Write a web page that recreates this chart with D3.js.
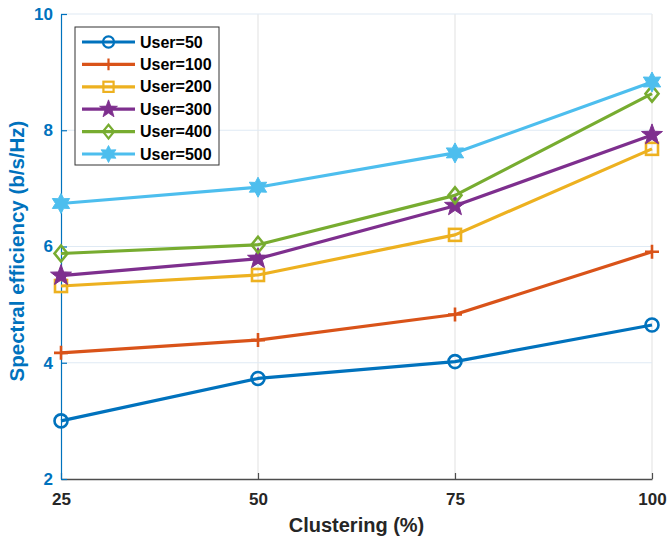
<!DOCTYPE html>
<html>
<head>
<meta charset="utf-8">
<script src="https://cdn.jsdelivr.net/npm/d3@7"></script>
<style>
  body { margin: 0; background: #fff; }
  svg { font-family: "Liberation Sans", Arial, sans-serif; }
</style>
</head>
<body>
<svg id="chart" width="667" height="540"></svg>
<script>
// data
const clustering = [25, 50, 75, 100];
const seriesNames = ['User=50', 'User=100', 'User=200', 'User=300', 'User=400', 'User=500'];
const user50 = [3.00, 3.73, 4.02, 4.65];
const user100 = [4.17, 4.39, 4.83, 5.91];
const user200 = [5.32, 5.51, 6.20, 7.68];
const user300 = [5.50, 5.79, 6.70, 7.92];
const user400 = [5.88, 6.03, 6.88, 8.63];
const user500 = [6.74, 7.02, 7.61, 8.83];
const yTicks = [2, 4, 6, 8, 10];

const colors = ['#0072BD', '#D95319', '#EDB120', '#7E2F8E', '#77AC30', '#4DBEEE'];
const markers = ['circle', 'plus', 'square', 'pentagram', 'diamond', 'hexagram'];
const allSeries = [user50, user100, user200, user300, user400, user500];

const svg = d3.select('#chart');
const margin = { top: 14, right: 15, bottom: 61, left: 61 };
const width = 667, height = 540;

const x = d3.scaleLinear().domain([25, 100]).range([margin.left, width - margin.right]);
const y = d3.scaleLinear().domain([2, 10]).range([height - margin.bottom, margin.top]);

// grid
svg.append('g')
  .selectAll('line')
  .data(clustering.slice(1))
  .join('line')
  .attr('x1', d => x(d)).attr('x2', d => x(d))
  .attr('y1', y(2)).attr('y2', y(10))
  .attr('stroke', '#e6e6e6').attr('stroke-width', 1.2);

svg.append('g')
  .selectAll('line')
  .data(yTicks.slice(1))
  .join('line')
  .attr('x1', x(25)).attr('x2', x(100))
  .attr('y1', d => y(d)).attr('y2', d => y(d))
  .attr('stroke', '#dfeaf4').attr('stroke-width', 1.2);

// axes
const xAxis = svg.append('g')
  .attr('transform', `translate(0,${y(2)})`)
  .call(d3.axisBottom(x).tickValues(clustering).tickSizeInner(-6).tickSizeOuter(0).tickPadding(14));
xAxis.select('.domain').attr('stroke', '#4d4d4d').attr('stroke-width', 1.5);
xAxis.selectAll('.tick line').attr('stroke', '#4d4d4d').attr('stroke-width', 1.2);
xAxis.selectAll('text')
  .attr('fill', '#262626').attr('font-size', 17).attr('font-weight', 'bold');

const yAxis = svg.append('g')
  .attr('transform', `translate(${x(25)},0)`)
  .call(d3.axisLeft(y).tickValues(yTicks).tickSizeInner(-6).tickSizeOuter(0).tickPadding(8));
yAxis.select('.domain').attr('stroke', '#0072BD').attr('stroke-width', 1.2);
yAxis.selectAll('.tick line').attr('stroke', '#0072BD').attr('stroke-width', 1.2);
yAxis.selectAll('text')
  .attr('fill', '#0072BD').attr('font-size', 17).attr('font-weight', 'bold');

// labels
svg.append('text')
  .attr('x', (x(25) + x(100)) / 2).attr('y', 532)
  .attr('text-anchor', 'middle')
  .attr('fill', '#262626').attr('font-size', 20).attr('font-weight', 'bold')
  .text('Clustering (%)');

svg.append('text')
  .attr('transform', `translate(24,251) rotate(-90)`)
  .attr('text-anchor', 'middle')
  .attr('fill', '#0072BD').attr('font-size', 20.5).attr('font-weight', 'bold')
  .text('Spectral efficiency (b/s/Hz)');

// marker paths
function starPath(points, outer, inner) {
  const p = d3.path();
  for (let i = 0; i < points * 2; i++) {
    const r = i % 2 === 0 ? outer : inner;
    const a = -Math.PI / 2 + i * Math.PI / points;
    const px = r * Math.cos(a), py = r * Math.sin(a);
    if (i === 0) p.moveTo(px, py); else p.lineTo(px, py);
  }
  p.closePath();
  return p.toString();
}

function drawMarker(g, type, color) {
  const sw = 2.6;
  if (type === 'circle') {
    g.append('circle').attr('r', 6.5).attr('fill', 'none').attr('stroke', color).attr('stroke-width', sw);
  } else if (type === 'plus') {
    g.append('path').attr('d', 'M-7,0H7M0,-7V7').attr('stroke', color).attr('stroke-width', sw).attr('fill', 'none');
  } else if (type === 'square') {
    g.append('rect').attr('x', -6).attr('y', -6).attr('width', 12).attr('height', 12)
      .attr('fill', 'none').attr('stroke', color).attr('stroke-width', sw);
  } else if (type === 'pentagram') {
    g.append('path').attr('d', starPath(5, 11, 4.5)).attr('fill', color).attr('stroke', color).attr('stroke-width', 1);
  } else if (type === 'diamond') {
    g.append('path').attr('d', 'M0,-8L6.5,0L0,8L-6.5,0Z').attr('fill', 'none').attr('stroke', color).attr('stroke-width', sw);
  } else if (type === 'hexagram') {
    g.append('path').attr('d', starPath(6, 10, 5.5)).attr('fill', color).attr('stroke', color).attr('stroke-width', 1);
  }
}

const line = d3.line().x((d, i) => x(clustering[i])).y(d => y(d));

allSeries.forEach((vals, s) => {
  const g = svg.append('g');
  g.append('path').datum(vals)
    .attr('d', line)
    .attr('fill', 'none')
    .attr('stroke', colors[s])
    .attr('stroke-width', 3.2)
    .attr('stroke-linejoin', 'round');
  vals.forEach((v, i) => {
    const mg = g.append('g').attr('transform', `translate(${x(clustering[i])},${y(v)})`);
    drawMarker(mg, markers[s], colors[s]);
  });
});

// legend
const legend = svg.append('g').attr('transform', 'translate(75,27)');
legend.append('rect')
  .attr('width', 144).attr('height', 138)
  .attr('fill', '#fff').attr('stroke', '#333').attr('stroke-width', 1);
seriesNames.forEach((name, s) => {
  const ly = 15 + s * 22.4;
  const row = legend.append('g');
  row.append('line').attr('x1', 7).attr('x2', 60).attr('y1', ly).attr('y2', ly)
    .attr('stroke', colors[s]).attr('stroke-width', 3.2);
  drawMarker(row.append('g').attr('transform', `translate(33.5,${ly}) scale(0.85)`), markers[s], colors[s]);
  row.append('text').attr('x', 65).attr('y', ly).attr('dy', '0.35em')
    .attr('font-size', 16).attr('font-weight', 'bold').attr('fill', '#000')
    .text(name);
});
</script>
</body>
</html>
